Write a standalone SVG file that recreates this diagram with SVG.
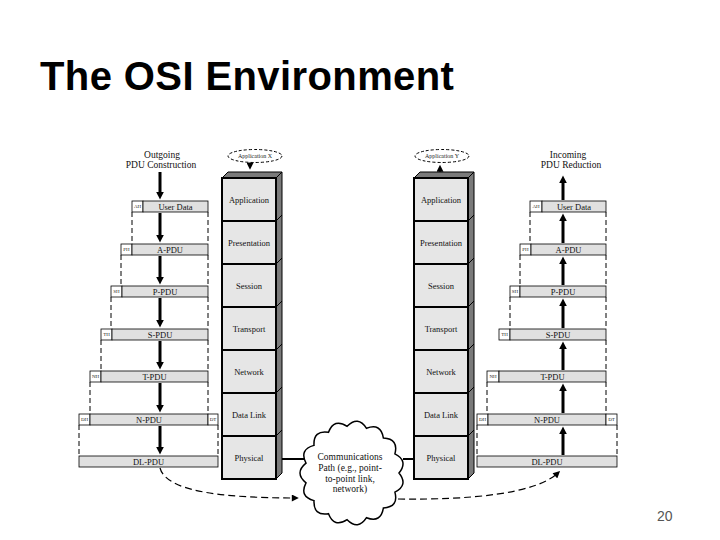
<svg xmlns="http://www.w3.org/2000/svg" width="720" height="540" viewBox="0 0 720 540">
<style>
.title{font-family:"Liberation Sans",Arial,sans-serif;font-weight:bold;font-size:40px;letter-spacing:0.4px;fill:#000}
.pg{font-family:"Liberation Sans",Arial,sans-serif;font-size:14px;fill:#555}
.t{font-family:"Liberation Serif","Times New Roman",serif;fill:#111;text-anchor:middle}
.lay{font-size:8.5px}
.row{font-size:8.5px}
.hd{font-size:9.5px}
.sm{font-family:"Liberation Serif","Times New Roman",serif;font-size:5px;fill:#222;text-anchor:middle}
.face{fill:#e6e6e6;stroke:#000;stroke-width:2}
.dark{fill:#7a7a7a;stroke:#000;stroke-width:1}
.gray{fill:#e0e0e0;stroke:#000;stroke-width:0.8}
.hbox{fill:#fff;stroke:#000;stroke-width:0.8}
.dash{fill:none;stroke:#000;stroke-width:1;stroke-dasharray:5,3}
.arr{stroke:#000;stroke-width:3;fill:none}
.thin{stroke:#000;stroke-width:1.2;fill:none}
.curve{fill:none;stroke:#000;stroke-width:1.2;stroke-dasharray:7,4}
.link{stroke:#000;stroke-width:2}
</style>
<defs>
<marker id="ah" viewBox="0 0 10 10" refX="3" refY="5" markerWidth="8" markerHeight="8" markerUnits="userSpaceOnUse" orient="auto"><path d="M0,0 L10,5 L0,10 z" fill="#000"/></marker>
<marker id="as" viewBox="0 0 10 10" refX="6" refY="5" markerWidth="8" markerHeight="7" markerUnits="userSpaceOnUse" orient="auto"><path d="M0,0 L10,5 L0,10 z" fill="#000"/></marker>
</defs>
<rect width="720" height="540" fill="#fff"/>
<text class="title" x="40" y="90">The OSI Environment</text>
<text class="pg" x="657" y="521">20</text>

<!-- Left stack -->
<g id="stackX">
<polygon class="dark" points="222,178 228,172 282,172 276,178"/>
<polygon class="dark" points="276,178 282,172 282,473 276,479"/>
<rect class="face" x="222" y="178" width="54" height="301"/>
<g stroke="#000" stroke-width="2"><line x1="222" y1="221" x2="276" y2="221"/><line x1="222" y1="264" x2="276" y2="264"/><line x1="222" y1="307" x2="276" y2="307"/><line x1="222" y1="350" x2="276" y2="350"/><line x1="222" y1="393" x2="276" y2="393"/><line x1="222" y1="436" x2="276" y2="436"/></g>
<g stroke="#000" stroke-width="1"><line x1="276" y1="221" x2="282" y2="215"/><line x1="276" y1="264" x2="282" y2="258"/><line x1="276" y1="307" x2="282" y2="301"/><line x1="276" y1="350" x2="282" y2="344"/><line x1="276" y1="393" x2="282" y2="387"/><line x1="276" y1="436" x2="282" y2="430"/></g>
<text class="t lay" x="249" y="203">Application</text>
<text class="t lay" x="249" y="246">Presentation</text>
<text class="t lay" x="249" y="289">Session</text>
<text class="t lay" x="249" y="332">Transport</text>
<text class="t lay" x="249" y="375">Network</text>
<text class="t lay" x="249" y="418">Data Link</text>
<text class="t lay" x="249" y="461">Physical</text>
</g>

<!-- Right stack -->
<g id="stackY">
<polygon class="dark" points="414,178 420,172 474,172 468,178"/>
<polygon class="dark" points="468,178 474,172 474,473 468,479"/>
<rect class="face" x="414" y="178" width="54" height="301"/>
<g stroke="#000" stroke-width="2"><line x1="414" y1="221" x2="468" y2="221"/><line x1="414" y1="264" x2="468" y2="264"/><line x1="414" y1="307" x2="468" y2="307"/><line x1="414" y1="350" x2="468" y2="350"/><line x1="414" y1="393" x2="468" y2="393"/><line x1="414" y1="436" x2="468" y2="436"/></g>
<g stroke="#000" stroke-width="1"><line x1="468" y1="221" x2="474" y2="215"/><line x1="468" y1="264" x2="474" y2="258"/><line x1="468" y1="307" x2="474" y2="301"/><line x1="468" y1="350" x2="474" y2="344"/><line x1="468" y1="393" x2="474" y2="387"/><line x1="468" y1="436" x2="474" y2="430"/></g>
<text class="t lay" x="441" y="203">Application</text>
<text class="t lay" x="441" y="246">Presentation</text>
<text class="t lay" x="441" y="289">Session</text>
<text class="t lay" x="441" y="332">Transport</text>
<text class="t lay" x="441" y="375">Network</text>
<text class="t lay" x="441" y="418">Data Link</text>
<text class="t lay" x="441" y="461">Physical</text>
</g>

<g id="appX">
<ellipse cx="255" cy="156" rx="27" ry="6.5" fill="#fff" stroke="#000" stroke-width="1" stroke-dasharray="3,2"/>
<text class="sm" x="255" y="158" style="font-size:6px">Application X</text>
</g>
<g id="appY">
<ellipse cx="442" cy="156" rx="27" ry="6.5" fill="#fff" stroke="#000" stroke-width="1" stroke-dasharray="3,2"/>
<text class="sm" x="442" y="158" style="font-size:6px">Application Y</text>
</g>

<g id="cloud">
<path d="M399,473 Q408.7,485.1 394.9,492.1 Q398.9,507.1 383.4,507.9 Q381,523.2 366.5,517.7 Q358.1,530.7 347.1,519.7 Q334.1,528.2 328.5,513.7 Q313.2,516.1 314,500.6 Q299,496.6 306,482.8 Q294,473 306,463.2 Q299,449.4 314,445.4 Q313.2,429.9 328.5,432.3 Q334.1,417.8 347.1,426.3 Q358.1,415.3 366.5,428.3 Q381,422.8 383.4,438.1 Q398.9,438.9 394.9,453.9 Q408.7,460.9 399,473 Z" fill="#fff" stroke="#000" stroke-width="1.5"/>
<text class="t" style="font-size:9.5px" x="350" y="460">Communications</text>
<text class="t" style="font-size:9.5px" x="350" y="471">Path (e.g., point-</text>
<text class="t" style="font-size:9.5px" x="350" y="482">to-point link,</text>
<text class="t" style="font-size:9.5px" x="350" y="492">network)</text>
</g>

<!-- Outgoing PDU construction -->
<g id="outgoing">
<text class="t hd" x="162" y="158">Outgoing</text>
<text class="t hd" x="161" y="168">PDU Construction</text>
<rect class="hbox" x="132" y="201" width="11" height="11"/><rect class="gray" x="143" y="201" width="65" height="11"/>
<text class="sm" x="137.5" y="208">AH</text><text class="t row" x="175.5" y="209.5">User Data</text>
<rect class="hbox" x="121" y="244" width="11" height="11"/><rect class="gray" x="132" y="244" width="76" height="11"/>
<text class="sm" x="126.5" y="251">PH</text><text class="t row" x="170" y="252.5">A-PDU</text>
<rect class="hbox" x="111" y="286" width="11" height="11"/><rect class="gray" x="122" y="286" width="86" height="11"/>
<text class="sm" x="116.5" y="293">SH</text><text class="t row" x="165" y="294.5">P-PDU</text>
<rect class="hbox" x="101" y="329" width="11" height="11"/><rect class="gray" x="112" y="329" width="96" height="11"/>
<text class="sm" x="106.5" y="336">TH</text><text class="t row" x="160" y="337.5">S-PDU</text>
<rect class="hbox" x="90" y="371" width="11" height="11"/><rect class="gray" x="101" y="371" width="107" height="11"/>
<text class="sm" x="95.5" y="378">NH</text><text class="t row" x="154.5" y="379.5">T-PDU</text>
<rect class="hbox" x="79" y="414" width="11" height="11"/><rect class="gray" x="90" y="414" width="118" height="11"/><rect class="hbox" x="208" y="414" width="10" height="11"/>
<text class="sm" x="84.5" y="421">DH</text><text class="t row" x="149" y="422.5">N-PDU</text><text class="sm" x="213" y="421">DT</text>
<rect class="gray" x="79" y="456" width="139" height="11"/>
<text class="t row" x="148.5" y="464.5">DL-PDU</text>
</g>

<!-- Incoming PDU reduction -->
<g id="incoming">
<text class="t hd" x="568" y="158">Incoming</text>
<text class="t hd" x="571" y="168">PDU Reduction</text>
<rect class="hbox" x="530" y="201" width="12" height="11"/><rect class="gray" x="542" y="201" width="64" height="11"/>
<text class="sm" x="536" y="208">AH</text><text class="t row" x="574" y="209.5">User Data</text>
<rect class="hbox" x="520" y="244" width="11" height="11"/><rect class="gray" x="531" y="244" width="75" height="11"/>
<text class="sm" x="525.5" y="251">PH</text><text class="t row" x="568.5" y="252.5">A-PDU</text>
<rect class="hbox" x="510" y="286" width="10" height="11"/><rect class="gray" x="520" y="286" width="86" height="11"/>
<text class="sm" x="515" y="293">SH</text><text class="t row" x="563" y="294.5">P-PDU</text>
<rect class="hbox" x="499" y="329" width="11" height="11"/><rect class="gray" x="510" y="329" width="96" height="11"/>
<text class="sm" x="504.5" y="336">TH</text><text class="t row" x="558" y="337.5">S-PDU</text>
<rect class="hbox" x="487" y="371" width="12" height="11"/><rect class="gray" x="499" y="371" width="107" height="11"/>
<text class="sm" x="493" y="378">NH</text><text class="t row" x="552.5" y="379.5">T-PDU</text>
<rect class="hbox" x="477" y="414" width="11" height="11"/><rect class="gray" x="488" y="414" width="118" height="11"/><rect class="hbox" x="606" y="414" width="11" height="11"/>
<text class="sm" x="482.5" y="421">DH</text><text class="t row" x="547" y="422.5">N-PDU</text><text class="sm" x="611.5" y="421">DT</text>
<rect class="gray" x="477" y="456" width="140" height="11"/>
<text class="t row" x="547" y="464.5">DL-PDU</text>
</g>

<g id="connectors">
<line class="dash" x1="132" y1="212" x2="132" y2="244"/>
<line class="dash" x1="121" y1="255" x2="121" y2="286"/>
<line class="dash" x1="111" y1="297" x2="111" y2="329"/>
<line class="dash" x1="101" y1="340" x2="101" y2="371"/>
<line class="dash" x1="90" y1="382" x2="90" y2="414"/>
<line class="dash" x1="79" y1="425" x2="79" y2="456"/>
<line class="dash" x1="208" y1="212" x2="208" y2="244"/>
<line class="dash" x1="208" y1="255" x2="208" y2="286"/>
<line class="dash" x1="208" y1="297" x2="208" y2="329"/>
<line class="dash" x1="208" y1="340" x2="208" y2="371"/>
<line class="dash" x1="208" y1="382" x2="208" y2="414"/>
<line class="dash" x1="218" y1="425" x2="218" y2="456"/>
<line class="dash" x1="530" y1="212" x2="530" y2="244"/>
<line class="dash" x1="520" y1="255" x2="520" y2="286"/>
<line class="dash" x1="510" y1="297" x2="510" y2="329"/>
<line class="dash" x1="487" y1="382" x2="487" y2="414"/>
<line class="dash" x1="477" y1="425" x2="477" y2="456"/>
<line class="dash" x1="606" y1="212" x2="606" y2="244"/>
<line class="dash" x1="606" y1="255" x2="606" y2="286"/>
<line class="dash" x1="606" y1="297" x2="606" y2="329"/>
<line class="dash" x1="606" y1="340" x2="606" y2="371"/>
<line class="dash" x1="606" y1="382" x2="606" y2="414"/>
<line class="dash" x1="617" y1="425" x2="617" y2="456"/>
<line class="arr" x1="160" y1="172" x2="160" y2="194" marker-end="url(#ah)"/>
<line class="arr" x1="160" y1="213" x2="160" y2="237" marker-end="url(#ah)"/>
<line class="arr" x1="160" y1="256" x2="160" y2="279" marker-end="url(#ah)"/>
<line class="arr" x1="160" y1="298" x2="160" y2="322" marker-end="url(#ah)"/>
<line class="arr" x1="160" y1="341" x2="160" y2="364" marker-end="url(#ah)"/>
<line class="arr" x1="160" y1="383" x2="160" y2="407" marker-end="url(#ah)"/>
<line class="arr" x1="160" y1="426" x2="160" y2="449" marker-end="url(#ah)"/>
<line class="arr" x1="563" y1="200" x2="563" y2="181" marker-end="url(#ah)"/>
<line class="arr" x1="563" y1="243" x2="563" y2="219" marker-end="url(#ah)"/>
<line class="arr" x1="563" y1="285" x2="563" y2="262" marker-end="url(#ah)"/>
<line class="arr" x1="563" y1="328" x2="563" y2="304" marker-end="url(#ah)"/>
<line class="arr" x1="563" y1="370" x2="563" y2="347" marker-end="url(#ah)"/>
<line class="arr" x1="563" y1="413" x2="563" y2="389" marker-end="url(#ah)"/>
<line class="arr" x1="563" y1="455" x2="563" y2="432" marker-end="url(#ah)"/>
<line class="thin" x1="250" y1="162.5" x2="250" y2="167" marker-end="url(#as)"/>
<line class="thin" x1="440" y1="172" x2="440" y2="167.5" marker-end="url(#as)"/>
<line class="link" x1="282" y1="459" x2="305" y2="459"/>
<line class="link" x1="403" y1="459" x2="414" y2="459"/>
<path class="curve" d="M160,468 C166,490 215,498 296,498" marker-end="url(#as)"/>
<path class="curve" d="M398,499 C470,500 535,494 558,473" marker-end="url(#as)"/>
</g>
</svg>
